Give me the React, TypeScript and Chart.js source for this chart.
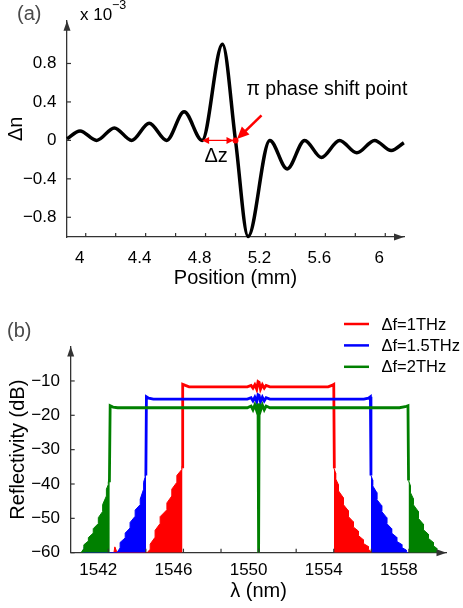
import React, { useEffect, useRef } from 'react';
import { Chart, registerables } from 'chart.js';

Chart.register(...registerables);

const FONT = '"Liberation Sans", Arial, Helvetica, sans-serif';

// ---------- (a) grating index modulation ----------
const positionMm = [3.875, 3.962, 4.073, 4.191, 4.307, 4.424, 4.54, 4.657, 4.777, 4.913, 5.0, 5.084, 5.229, 5.345, 5.462, 5.573, 5.695, 5.81, 5.929, 6.04, 6.124];
const deltaN = [0.017, 0.098, 0, 0.13, 0, 0.178, 0, 0.298, 0, 1.0, 0, -1.0, 0, -0.297, 0, -0.177, 0, -0.129, 0, -0.106, -0.025];
const dzStart = 4.777;
const phaseShiftPos = 5.0;
const xRangeA = [3.875, 6.125];
const yRangeA = [-1.005, 1.245];
const xTicksA = [4, 4.2, 4.4, 4.6, 4.8, 5, 5.2, 5.4, 5.6, 5.8, 6];
const xLabelsA = [4, 4.4, 4.8, 5.2, 5.6, 6];
const yTicksA = [-0.8, -0.4, 0, 0.4, 0.8];

// ---------- (b) reflectivity spectra ----------
const seriesLabels = ['Δf=1THz', 'Δf=1.5THz', 'Δf=2THz'];
const seriesColors = ['#ff0000', '#0000ff', '#008000'];

const redBand = [[1545.93, -35], [1545.96, -11.0], [1546.1, -11.3], [1546.3, -11.7], [1549.4, -11.7], [1549.6, -11.3], [1549.7, -12.1], [1549.8, -11.1], [1549.9, -12.4], [1549.97, -10.2], [1550.03, -10.4], [1550.1, -12.4], [1550.2, -11.1], [1550.3, -12.1], [1550.4, -11.3], [1550.6, -11.7], [1553.7, -11.7], [1553.9, -11.3], [1554.0, -11.0], [1554.03, -35.4]];
const redLobeLeft = [[1542.3, -60], [1542.35, -58.3], [1542.47, -60], [1544.07, -60], [1544.23, -59], [1544.23, -57.5], [1544.49, -55.5], [1544.49, -53.5], [1544.76, -51.5], [1544.76, -49.5], [1545.12, -47.5], [1545.12, -45.5], [1545.38, -43.5], [1545.38, -41.5], [1545.65, -39.5], [1545.65, -37.5], [1545.91, -35.8], [1545.91, -34.9], [1545.95, -34.9]];
const redLobeRight = [[1554.01, -35.4], [1554.1, -36.8], [1554.1, -38.5], [1554.25, -40.2], [1554.25, -42], [1554.51, -44], [1554.51, -46], [1554.78, -47.8], [1554.78, -49.5], [1555.04, -51], [1555.04, -52.5], [1555.31, -53.7], [1555.31, -55], [1555.57, -56.2], [1555.57, -57.3], [1555.84, -58.2], [1555.84, -59], [1556.05, -60]];

const blueBand = [[1544.0, -37.5], [1544.03, -14.6], [1544.15, -15.0], [1544.4, -15.3], [1549.4, -15.3], [1549.6, -14.9], [1549.7, -15.8], [1549.8, -14.7], [1549.9, -16.1], [1549.97, -14.0], [1550.03, -14.2], [1550.1, -16.1], [1550.2, -14.7], [1550.3, -15.8], [1550.4, -14.9], [1550.6, -15.3], [1555.6, -15.3], [1555.85, -15.0], [1555.95, -14.6], [1555.98, -37.5]];
const blueLobeLeft = [[1540.68, -60], [1540.72, -58.5], [1540.85, -60], [1542.46, -60], [1542.63, -58.6], [1542.63, -57], [1542.9, -55.7], [1542.9, -54.3], [1543.16, -52.8], [1543.16, -51.2], [1543.43, -49.4], [1543.43, -47.6], [1543.7, -46], [1543.7, -44.4], [1543.88, -41.5], [1543.88, -39.5], [1543.96, -38], [1543.96, -37.4], [1544.01, -37.4]];
const blueLobeRight = [[1555.98, -37.5], [1556.07, -38.8], [1556.07, -40.5], [1556.29, -42.5], [1556.29, -44.5], [1556.55, -46.3], [1556.55, -48], [1556.82, -49.8], [1556.82, -51.5], [1557.08, -53], [1557.08, -54.3], [1557.35, -55.5], [1557.35, -56.7], [1557.62, -57.6], [1557.62, -58.5], [1557.85, -59.2], [1557.85, -59.7], [1557.95, -60]];

const greenBand = [[1542.06, -39.5], [1542.1, -17.2], [1542.25, -17.6], [1542.5, -17.8], [1549.4, -17.8], [1549.6, -17.3], [1549.7, -18.4], [1549.8, -17.0], [1549.9, -18.7], [1549.97, -16.6], [1549.99, -60], [1550.01, -60], [1550.03, -16.6], [1550.1, -18.7], [1550.2, -17.0], [1550.3, -18.4], [1550.4, -17.3], [1550.6, -17.8], [1557.5, -17.8], [1557.8, -17.5], [1557.95, -17.2], [1557.98, -39]];
const greenLobeLeft = [[1540.55, -60], [1540.7, -58.8], [1540.7, -57.7], [1540.94, -56.6], [1540.94, -55.6], [1541.2, -54.3], [1541.2, -53], [1541.47, -51.5], [1541.47, -49.8], [1541.7, -48], [1541.7, -46], [1541.9, -43.5], [1541.9, -41.5], [1542.0, -40.2], [1542.0, -39.3], [1542.08, -39.3]];
const greenLobeRight = [[1557.98, -39], [1558.08, -40.5], [1558.08, -42.5], [1558.23, -44.2], [1558.23, -46], [1558.5, -48], [1558.5, -50], [1558.77, -51.7], [1558.77, -53.3], [1559.03, -54.6], [1559.03, -55.8], [1559.3, -57], [1559.3, -58], [1559.48, -58.7], [1559.48, -59.3], [1559.6, -60]];

const xRangeB = [1540, 1560];
const yRangeB = [-60, 0];
const xTicksB = [1542, 1544, 1546, 1548, 1550, 1552, 1554, 1556, 1558];
const xLabelsB = [1542, 1546, 1550, 1554, 1558];
const yTicksB = [-60, -50, -40, -30, -20, -10];

const bands = [redBand, blueBand, greenBand];
const lobesLeft = [redLobeLeft, blueLobeLeft, greenLobeLeft];
const lobesRight = [redLobeRight, blueLobeRight, greenLobeRight];

// ---------- helpers ----------
const fmt = (v: number) => String(v).replace('-', '\u2212');
const has = (arr: number[], v: number) => arr.some((a) => Math.abs(a - v) < 1e-6);
const pts = (arr: number[][]) => arr.map(([x, y]) => ({ x, y }));

function line(ctx: any, x1: number, y1: number, x2: number, y2: number) {
  ctx.beginPath();
  ctx.moveTo(x1, y1);
  ctx.lineTo(x2, y2);
  ctx.stroke();
}
function arrowHead(ctx: any, tx: number, ty: number, ang: number, len: number, half: number) {
  const c = Math.cos(ang);
  const s = Math.sin(ang);
  ctx.beginPath();
  ctx.moveTo(tx, ty);
  ctx.lineTo(tx - len * c + half * s, ty - len * s - half * c);
  ctx.lineTo(tx - len * c - half * s, ty - len * s + half * c);
  ctx.closePath();
  ctx.fill();
}

const AXIS_COLOR = '#333';

function axisDecor(xTicks: number[], yTicks: number[]) {
  return {
    id: 'axisDecor',
    afterDraw(chart: any) {
      const { ctx, chartArea, scales } = chart;
      const { left, right, top, bottom } = chartArea;
      ctx.save();
      ctx.strokeStyle = AXIS_COLOR;
      ctx.fillStyle = AXIS_COLOR;
      ctx.lineWidth = 1.2;
      xTicks.forEach((v) => {
        const px = scales.x.getPixelForValue(v);
        line(ctx, px, bottom, px, bottom - 4);
      });
      yTicks.forEach((v) => {
        const py = scales.y.getPixelForValue(v);
        line(ctx, left, py, left + 4, py);
      });
      arrowHead(ctx, right, bottom, 0, 10, 3.5);
      arrowHead(ctx, left, top, -Math.PI / 2, 10, 3.5);
      ctx.restore();
    },
  };
}

const annotA = {
  id: 'annotA',
  afterDraw(chart: any) {
    const { ctx, scales } = chart;
    const x0 = scales.x.getPixelForValue(dzStart);
    const x1 = scales.x.getPixelForValue(phaseShiftPos);
    const y0 = scales.y.getPixelForValue(0);
    ctx.save();
    ctx.strokeStyle = '#ff0000';
    ctx.fillStyle = '#ff0000';
    // Δz double arrow
    ctx.lineWidth = 1.2;
    line(ctx, x0 + 2, y0, x1 - 3, y0);
    arrowHead(ctx, x0, y0, Math.PI, 7, 3.5);
    arrowHead(ctx, x1 - 2, y0, 0, 7, 3.5);
    // phase shift point
    ctx.beginPath();
    ctx.arc(x1, y0, 3, 0, Math.PI * 2);
    ctx.fill();
    // pointer arrow
    const ang = Math.atan2(25, -26);
    ctx.lineWidth = 2.6;
    line(ctx, x1 + 26, y0 - 25, x1 + 8, y0 - 7.5);
    arrowHead(ctx, x1 + 1.5, y0 - 1.5, ang, 12, 5.5);
    // texts
    ctx.fillStyle = '#000';
    ctx.textBaseline = 'middle';
    ctx.textAlign = 'left';
    ctx.font = `19.5px ${FONT}`;
    ctx.fillText('\u03c0 phase shift point', 246.5, 90);
    ctx.font = `20px ${FONT}`;
    ctx.fillText('\u0394z', 204.5, 156);
    ctx.fillStyle = '#4a4a4a';
    ctx.font = `20px ${FONT}`;
    ctx.fillText('(a)', 17, 14);
    ctx.fillStyle = '#000';
    ctx.font = `17px ${FONT}`;
    ctx.fillText('x 10', 80, 15);
    ctx.font = `12.5px ${FONT}`;
    ctx.fillText('\u22123', 112, 6);
    ctx.restore();
  },
};

const legendB = {
  id: 'legendB',
  afterDraw(chart: any) {
    const { ctx } = chart;
    ctx.save();
    ctx.textBaseline = 'middle';
    ctx.textAlign = 'left';
    seriesLabels.forEach((label, i) => {
      const y = 24 + i * 21.4;
      ctx.strokeStyle = seriesColors[i];
      ctx.lineWidth = 2.5;
      line(ctx, 344, y, 369, y);
      ctx.fillStyle = '#000';
      ctx.font = `16.5px ${FONT}`;
      ctx.fillText(label, 381.5, y + 1);
    });
    ctx.fillStyle = '#4a4a4a';
    ctx.font = `20px ${FONT}`;
    ctx.fillText('(b)', 7, 31);
    ctx.restore();
  },
};

function scaleBase(range: number[], ticks: number[], labels: number[] | null, fontSize: number, pad: number, labelOffset: number, fit: (s: any) => void, title: any) {
  return {
    type: 'linear',
    min: range[0],
    max: range[1],
    afterBuildTicks: (s: any) => {
      s.ticks = ticks.map((v) => ({ value: v }));
    },
    afterFit: fit,
    grid: { display: false, drawTicks: false },
    border: { display: true, color: AXIS_COLOR, width: 1.3 },
    ticks: {
      autoSkip: false,
      maxRotation: 0,
      minRotation: 0,
      padding: pad,
      labelOffset,
      color: '#000',
      font: { family: FONT, size: fontSize },
      callback: (v: number) => (labels === null || has(labels, v) ? fmt(v) : ''),
    },
    title,
  };
}

function configA(): any {
  return {
    type: 'line',
    data: {
      datasets: [
        {
          data: positionMm.map((x, i) => ({ x, y: deltaN[i] })),
          borderColor: '#000',
          borderWidth: 3.5,
          pointRadius: 0,
          cubicInterpolationMode: 'monotone',
          fill: false,
          clip: false,
        },
      ],
    },
    options: {
      animation: false,
      responsive: false,
      maintainAspectRatio: false,
      events: [],
      layout: { padding: { left: 0, right: 59, top: 5, bottom: 0 } },
      plugins: { legend: { display: false }, tooltip: { enabled: false } },
      scales: {
        x: scaleBase(xRangeA, xTicksA, xLabelsA, 17, 11.3, -6, (s: any) => { s.height = 63; }, {
          display: true, text: 'Position (mm)', color: '#000', font: { family: FONT, size: 20 }, padding: { top: 0, bottom: 10 },
        }),
        y: scaleBase(yRangeA, yTicksA, null, 17, 10.5, 0, (s: any) => { s.width = 67; }, {
          display: true, text: '\u0394n', color: '#000', font: { family: FONT, size: 20 }, padding: { top: 4.7, bottom: 0 },
        }),
      },
    },
    plugins: [axisDecor(xTicksA, yTicksA), annotA],
  };
}

function configB(): any {
  const datasets: any[] = [];
  seriesLabels.forEach((label, i) => {
    const color = seriesColors[i];
    const order = 3 - i;
    datasets.push({ label, data: pts(bands[i]), borderColor: color, borderWidth: 2.8, pointRadius: 0, fill: false, order });
    [lobesLeft[i], lobesRight[i]].forEach((lobe) => {
      datasets.push({ label: label + ' sidelobes', data: pts(lobe), borderColor: color, backgroundColor: color, borderWidth: 1, pointRadius: 0, fill: 'start', order });
    });
  });
  return {
    type: 'line',
    data: { datasets },
    options: {
      animation: false,
      responsive: false,
      maintainAspectRatio: false,
      events: [],
      layout: { padding: { left: 0, right: 16.5, top: 46.6, bottom: 0 } },
      plugins: { legend: { display: false }, tooltip: { enabled: false } },
      scales: {
        x: scaleBase(xRangeB, xTicksB, xLabelsB, 17, 7.9, -10, (s: any) => { s.height = 55.3; }, {
          display: true, text: '\u03bb (nm)', color: '#000', font: { family: FONT, size: 20 }, padding: { top: 0, bottom: 4.3 },
        }),
        y: scaleBase(yRangeB, yTicksB, null, 17, 10.7, 0, (s: any) => { s.width = 70.7; }, {
          display: true, text: 'Reflectivity (dB)', color: '#000', font: { family: FONT, size: 20 }, padding: { top: 6.3, bottom: 0 },
        }),
      },
    },
    plugins: [axisDecor(xTicksB, yTicksB), legendB],
  };
}

function ChartCanvas({ make, top, width, height }: { make: () => any; top: number; width: number; height: number }) {
  const ref = useRef<HTMLCanvasElement | null>(null);
  useEffect(() => {
    const chart = new Chart(ref.current as HTMLCanvasElement, make());
    return () => chart.destroy();
  }, []);
  return (
    <div style={{ position: 'absolute', left: 0, top, width, height }}>
      <canvas ref={ref} width={width} height={height} style={{ width, height, display: 'block' }} />
    </div>
  );
}

export default function App() {
  return (
    <div style={{ position: 'fixed', left: 0, top: 0, width: 463, height: 608, background: '#fff', overflow: 'hidden' }}>
      <ChartCanvas make={configA} top={0} width={463} height={300} />
      <ChartCanvas make={configB} top={300} width={463} height={308} />
    </div>
  );
}
